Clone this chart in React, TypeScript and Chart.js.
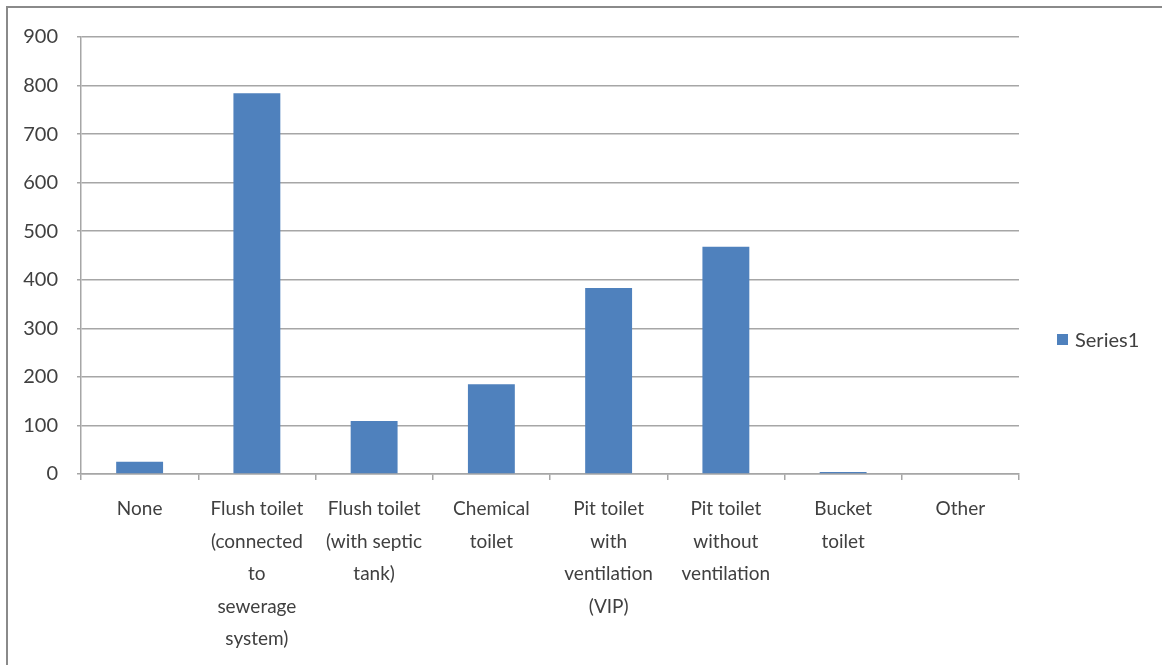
import React, { useEffect, useRef } from "react";
import { Chart, registerables } from "chart.js";

Chart.register(...registerables);

const categories: string[][] = [
  ["None"],
  ["Flush toilet", "(connected", "to", "sewerage", "system)"],
  ["Flush toilet", "(with septic", "tank)"],
  ["Chemical", "toilet"],
  ["Pit toilet", "with", "ventilation", "(VIP)"],
  ["Pit toilet", "without", "ventilation"],
  ["Bucket", "toilet"],
  ["Other"],
];
const series1: number[] = [25, 784, 109, 185, 383, 468, 4, 0];
const seriesName = "Series1";
const yMin = 0;
const yMax = 900;
const yStep = 100;

const FONT = "Lato, 'Open Sans', sans-serif";
const BAR = "#4f81bd";
const GRID = "#a6a6a6";
const TEXT = "#404040";

export default function App() {
  const ref = useRef<HTMLCanvasElement | null>(null);

  useEffect(() => {
    if (!ref.current) return;
    const chart = new Chart(ref.current, {
      type: "bar",
      data: {
        labels: categories,
        datasets: [
          {
            label: seriesName,
            data: series1,
            backgroundColor: BAR,
            borderWidth: 0,
            categoryPercentage: 1,
            barPercentage: 0.4,
          },
        ],
      },
      options: {
        responsive: false,
        animation: false,
        maintainAspectRatio: false,
        layout: { padding: { top: 37, right: 143, bottom: 0, left: 0 } },
        plugins: {
          legend: { display: false },
          tooltip: { enabled: false },
        },
        scales: {
          x: {
            offset: true,
            grid: {
              offset: true,
              drawOnChartArea: false,
              drawTicks: true,
              tickLength: 6,
              color: GRID,
              lineWidth: 1.5,
            },
            border: { display: true, color: GRID, width: 1.5 },
            ticks: {
              color: TEXT,
              padding: 13,
              maxRotation: 0,
              autoSkip: false,
              font: { family: FONT, size: 19, lineHeight: 1.71 },
            },
            afterFit: (scale: any) => {
              scale.height = 191;
            },
          },
          y: {
            min: yMin,
            max: yMax,
            ticks: {
              stepSize: yStep,
              color: TEXT,
              padding: 19,
              font: { family: FONT, size: 20 },
            },
            grid: {
              color: GRID,
              lineWidth: 1.5,
              drawTicks: true,
              tickLength: 4,
            },
            border: { display: true, color: GRID, width: 1.5 },
            afterFit: (scale: any) => {
              scale.width = 81;
            },
          },
        },
      },
    });
    (document as any).fonts?.ready?.then(() => chart.update());
    return () => chart.destroy();
  }, []);

  return (
    <div
      style={{
        position: "fixed",
        left: 0,
        top: 0,
        width: 1162,
        height: 665,
        background: "#ffffff",
        overflow: "hidden",
      }}
    >
      <canvas ref={ref} width={1162} height={665} style={{ position: "absolute", left: 0, top: 0 }} />
      <div
        style={{
          position: "absolute",
          left: 6,
          top: 6,
          width: 1300,
          height: 800,
          borderLeft: "2px solid #8a8a8a",
          borderTop: "2px solid #8a8a8a",
          pointerEvents: "none",
        }}
      />
      <div
        style={{
          position: "absolute",
          left: 1057,
          top: 327,
          display: "flex",
          alignItems: "center",
          fontFamily: FONT,
          fontSize: 20,
          color: "#404040",
          lineHeight: "24px",
        }}
      >
        <span style={{ display: "inline-block", width: 11, height: 11, background: BAR, marginRight: 7 }} />
        <span>{seriesName}</span>
      </div>
    </div>
  );
}
